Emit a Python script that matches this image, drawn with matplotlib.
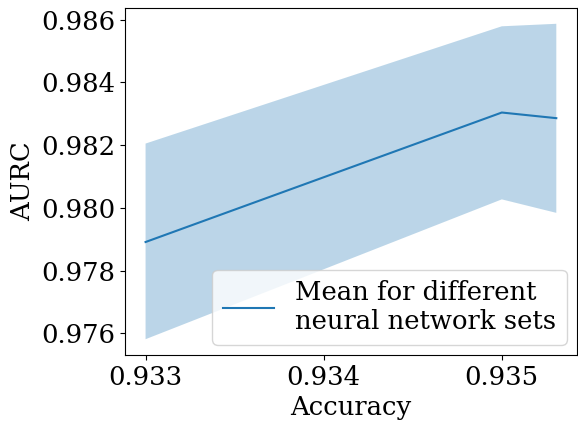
import numpy as np
import matplotlib
matplotlib.use('Agg')
import matplotlib.pyplot as plt

accuracy = [0.933, 0.935, 0.935306]
aurc_mean = [0.97891, 0.98304, 0.98286]
aurc_low = [0.97581, 0.98027, 0.97984]
aurc_high = [0.98205, 0.98579, 0.98587]

plt.rcParams['font.family'] = 'DejaVu Serif'
plt.rcParams['font.size'] = 18.6

fig = plt.figure(figsize=(5.78, 4.22), dpi=100)
ax = fig.add_axes([0.2163, 0.1588, 0.7817, 0.8222])
ax.plot(accuracy, aurc_mean, label='Mean for different\nneural network sets')
ax.fill_between(accuracy, aurc_low, aurc_high, alpha=0.3)
ax.set_xlabel('Accuracy', labelpad=4)
ax.set_ylabel('AURC')
ax.set_xticks([0.933, 0.934, 0.935])
ax.set_yticks([0.976, 0.978, 0.980, 0.982, 0.984, 0.986])
ax.legend(loc='lower right', borderaxespad=0.4)
fig.savefig('out.png', dpi=100)
